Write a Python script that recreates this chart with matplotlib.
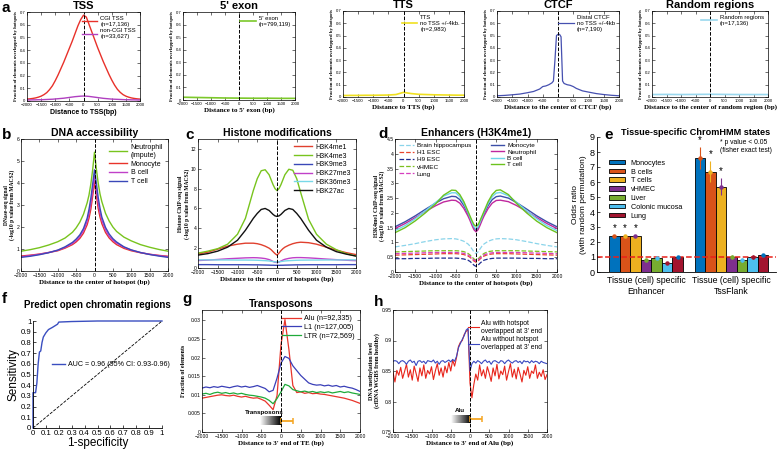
import matplotlib

matplotlib.use("Agg")
import matplotlib.pyplot as plt
import numpy as np

plt.rcParams["font.family"] = ["Liberation Sans", "DejaVu Sans"]
SERIF = "Liberation Serif"

W, H = 778, 453

# ---------------- panel a data ----------------
X100 = np.arange(-2000, 2001, 100)
X500 = np.arange(-2000, 2001, 500)
X250 = np.arange(-2000, 2001, 250)

tss_cgi = [0.015, 0.017, 0.02, 0.024, 0.03, 0.038, 0.05, 0.066, 0.09, 0.12, 0.16,
           0.205, 0.255, 0.305, 0.36, 0.415, 0.47, 0.53, 0.59, 0.64, 0.675,
           0.66, 0.6, 0.54, 0.48, 0.42, 0.365, 0.31, 0.26, 0.21, 0.165,
           0.125, 0.092, 0.068, 0.05, 0.038, 0.03, 0.024, 0.02, 0.017, 0.015]
tss_noncgi = [0.008, 0.008, 0.009, 0.009, 0.01, 0.01, 0.011, 0.012, 0.013, 0.014, 0.016,
              0.018, 0.02, 0.022, 0.025, 0.028, 0.031, 0.034, 0.036, 0.038, 0.039,
              0.038, 0.036, 0.033, 0.03, 0.027, 0.024, 0.021, 0.019, 0.017, 0.015,
              0.014, 0.013, 0.012, 0.011, 0.01, 0.01, 0.009, 0.009, 0.008, 0.008]
exon5 = [0.022, 0.02, 0.018, 0.016, 0.015, 0.014, 0.014, 0.013, 0.013]
tts = [0.012, 0.013, 0.013, 0.014, 0.014, 0.015, 0.016, 0.02, 0.038,
       0.028, 0.022, 0.02, 0.018, 0.017, 0.016, 0.015, 0.015]
ctcf_x = [-2000, -1750, -1500, -1250, -1000, -800, -600, -500, -400, -300, -200, -150,
          -100, -50, 0, 50, 100, 150, 200, 300, 400, 500, 600, 800, 1000, 1250, 1500,
          1750, 2000]
ctcf = [0.01, 0.013, 0.018, 0.024, 0.035, 0.045, 0.065, 0.085, 0.09, 0.1, 0.115, 0.13,
        0.3, 0.5, 0.51, 0.51, 0.49, 0.13, 0.11, 0.1, 0.095, 0.085, 0.07, 0.05, 0.04,
        0.028, 0.02, 0.014, 0.01]
random_reg = [0.02, 0.021, 0.02, 0.021, 0.022, 0.021, 0.02, 0.02, 0.02]

# ---------------- row 2 data ----------------
XB = [-2000, -1750, -1500, -1250, -1000, -800, -600, -500, -400, -300, -200, -150,
      -100, -50, 0, 50, 100, 150, 200, 300, 400, 500, 600, 800, 1000, 1250, 1500,
      1750, 2000]

dnase = {
    "Neutrophil\n(impute)": [0.9, 0.97, 1.06, 1.18, 1.33, 1.5, 1.76, 1.96, 2.22, 2.58, 3.1,
                             3.45, 3.95, 4.6, 5.4, 4.65, 4.0, 3.5, 3.15, 2.62, 2.27, 2.0,
                             1.8, 1.54, 1.37, 1.2, 1.08, 0.98, 0.9],
    "Monocyte": [0.68, 0.72, 0.77, 0.84, 0.92, 1.04, 1.2, 1.32, 1.48, 1.72, 2.1, 2.4, 2.8,
                 3.4, 4.05, 3.45, 2.85, 2.45, 2.15, 1.75, 1.5, 1.33, 1.2, 1.03, 0.92, 0.83,
                 0.76, 0.71, 0.67],
    "B cell": [0.65, 0.7, 0.76, 0.84, 0.94, 1.07, 1.25, 1.38, 1.56, 1.83, 2.25, 2.6, 3.05,
               3.65, 4.3, 3.7, 3.1, 2.65, 2.3, 1.87, 1.58, 1.4, 1.27, 1.08, 0.95, 0.84,
               0.76, 0.7, 0.65],
    "T cell": [0.62, 0.67, 0.74, 0.83, 0.95, 1.1, 1.3, 1.45, 1.64, 1.93, 2.4, 2.8, 3.3,
               3.95, 4.6, 4.0, 3.35, 2.85, 2.45, 1.98, 1.68, 1.47, 1.32, 1.1, 0.96, 0.84,
               0.75, 0.68, 0.62],
}
dnase_colors = ["#78c41e", "#e8332a", "#c040c8", "#3a48b8"]

histone = {
    "H3K4me1": [1.4, 1.6, 1.9, 2.2, 2.4, 2.5, 2.5, 2.45, 2.35, 2.2, 2.0, 1.85, 1.65, 1.45,
                1.3, 1.5, 1.75, 1.95, 2.1, 2.3, 2.45, 2.55, 2.6, 2.55, 2.4, 2.1, 1.8, 1.55,
                1.35],
    "H3K4me3": [1.5, 1.7, 1.95, 2.4, 3.4, 5.0, 7.8, 9.0, 9.8, 9.9, 9.4, 8.9, 8.4, 8.0, 7.8,
                8.0, 8.4, 8.9, 9.4, 9.95, 9.85, 9.0, 7.6, 4.9, 3.4, 2.4, 1.85, 1.45, 1.2],
    "H3K9me3": [0.34, 0.34, 0.33, 0.33, 0.33, 0.33, 0.32, 0.32, 0.31, 0.3, 0.29, 0.28,
                0.28, 0.27, 0.27, 0.27, 0.28, 0.28, 0.29, 0.3, 0.31, 0.32, 0.32, 0.33,
                0.33, 0.33, 0.33, 0.34, 0.34],
    "H3K27me3": [0.75, 0.8, 0.86, 0.93, 0.98, 1.02, 1.04, 1.03, 1.0, 0.95, 0.85, 0.76,
                 0.66, 0.58, 0.55, 0.6, 0.7, 0.8, 0.88, 0.97, 1.03, 1.05, 1.05, 1.02,
                 0.97, 0.9, 0.84, 0.78, 0.74],
    "H3K36me3": [0.82, 0.82, 0.81, 0.81, 0.8, 0.8, 0.79, 0.78, 0.76, 0.74, 0.71, 0.68,
                 0.65, 0.62, 0.6, 0.62, 0.65, 0.68, 0.71, 0.74, 0.76, 0.78, 0.79, 0.8,
                 0.8, 0.81, 0.81, 0.82, 0.82],
    "H3K27ac": [1.3, 1.45, 1.7, 2.1, 2.8, 3.8, 5.0, 5.5, 5.9, 6.0, 5.8, 5.6, 5.4, 5.25,
                5.2, 5.25, 5.4, 5.6, 5.8, 6.0, 5.9, 5.5, 5.0, 3.8, 2.8, 2.1, 1.65, 1.4,
                1.2],
}
histone_colors = ["#e0402e", "#78c41e", "#3a48b8", "#c040c8", "#78d8e8", "#111111"]

enh_dashed = {
    "Brain hippocampus": [0.85, 0.9, 0.96, 1.03, 1.09, 1.12, 1.13, 1.12, 1.09, 1.04,
                          0.95, 0.88, 0.78, 0.68, 0.62, 0.68, 0.78, 0.88, 0.95, 1.04,
                          1.09, 1.12, 1.13, 1.12, 1.09, 1.03, 0.96, 0.9, 0.85],
    "H1 ESC": [0.57, 0.58, 0.59, 0.6, 0.61, 0.62, 0.62, 0.62, 0.61, 0.59, 0.54, 0.5,
               0.44, 0.37, 0.33, 0.37, 0.44, 0.5, 0.54, 0.59, 0.61, 0.62, 0.62, 0.62,
               0.61, 0.6, 0.59, 0.58, 0.57],
    "H9 ESC": [0.45, 0.45, 0.46, 0.46, 0.47, 0.47, 0.47, 0.47, 0.46, 0.44, 0.4, 0.36,
               0.3, 0.23, 0.19, 0.23, 0.3, 0.36, 0.4, 0.44, 0.46, 0.47, 0.47, 0.47, 0.47,
               0.46, 0.46, 0.45, 0.45],
    "vHMEC": [0.68, 0.69, 0.7, 0.71, 0.72, 0.72, 0.72, 0.72, 0.71, 0.69, 0.63, 0.58,
              0.51, 0.44, 0.4, 0.44, 0.51, 0.58, 0.63, 0.69, 0.71, 0.72, 0.72, 0.72,
              0.72, 0.71, 0.7, 0.69, 0.68],
    "Lung": [0.62, 0.63, 0.64, 0.65, 0.66, 0.66, 0.66, 0.66, 0.65, 0.63, 0.58, 0.53,
             0.47, 0.4, 0.37, 0.4, 0.47, 0.53, 0.58, 0.63, 0.65, 0.66, 0.66, 0.66, 0.66,
             0.65, 0.64, 0.63, 0.62],
}
enh_dashed_colors = ["#8ad4ea", "#e8452c", "#1f2b8f", "#7cbf1e", "#d63fbf"]
enh_solid = {
    "Monocyte": [1.53, 1.7, 1.9, 2.12, 2.33, 2.48, 2.56, 2.55, 2.45, 2.25, 1.98, 1.82,
                 1.65, 1.5, 1.42, 1.5, 1.65, 1.82, 1.98, 2.25, 2.45, 2.55, 2.57, 2.5,
                 2.35, 2.13, 1.9, 1.7, 1.53],
    "Neutrophil": [1.47, 1.64, 1.84, 2.05, 2.24, 2.37, 2.43, 2.42, 2.33, 2.15, 1.9, 1.75,
                   1.58, 1.43, 1.36, 1.43, 1.58, 1.75, 1.9, 2.15, 2.33, 2.42, 2.43, 2.38,
                   2.25, 2.05, 1.84, 1.64, 1.47],
    "B cell": [1.4, 1.57, 1.8, 2.07, 2.35, 2.57, 2.68, 2.68, 2.55, 2.32, 2.02, 1.85,
               1.68, 1.53, 1.45, 1.53, 1.68, 1.85, 2.02, 2.32, 2.55, 2.67, 2.69, 2.58,
               2.36, 2.07, 1.8, 1.57, 1.4],
    "T cell": [1.33, 1.5, 1.73, 2.0, 2.3, 2.6, 2.77, 2.76, 2.62, 2.38, 2.06, 1.9, 1.74,
               1.6, 1.55, 1.6, 1.74, 1.9, 2.06, 2.38, 2.62, 2.76, 2.78, 2.62, 2.32, 2.0,
               1.72, 1.5, 1.33],
}
enh_solid_colors = ["#3c4fa8", "#c0289e", "#6fd6ea", "#6cc21e"]

# ---------------- panel e data ----------------
groups = ["Tissue (cell) specific\nEnhancer", "Tissue (cell) specific\nTssFlank"]
tissues = ["Monocytes", "B cells", "T cells", "vHMEC", "Liver", "Colonic mucosa", "Lung"]
odds_enh = [2.4, 2.42, 2.4, 0.8, 0.92, 0.6, 1.0]
odds_tss = [7.6, 6.7, 5.7, 1.0, 0.82, 1.02, 1.12]
err_enh = [0.08, 0.08, 0.08, 0.08, 0.06, 0.05, 0.05]
err_tss = [0.72, 0.7, 0.55, 0.15, 0.12, 0.12, 0.1]
tissue_colors = ["#0072bd", "#d95319", "#edb120", "#7e2f8e", "#77ac30", "#4dbeee", "#a2142f"]

# ---------------- panel f data ----------------
roc_fpr = [0, 0, 0.02, 0.03, 0.04, 0.05, 0.06, 0.07, 0.08, 0.1, 0.12, 0.15, 0.17, 0.19,
           0.2, 0.3, 0.5, 1.0]
roc_tpr = [0, 0.33, 0.33, 0.42, 0.6, 0.71, 0.72, 0.8, 0.85, 0.89, 0.92, 0.94, 0.955,
           0.97, 0.99, 0.995, 1.0, 1.0]

# ---------------- panel g data ----------------
te_alu = [0.0091, 0.0093, 0.0095, 0.0097, 0.0099, 0.01, 0.0098, 0.0097, 0.0099, 0.0096,
          0.0094, 0.0096, 0.0093, 0.0091, 0.0092, 0.0088, 0.0083, 0.0072, 0.006, 0.0098,
          0.0235, 0.0302, 0.0222, 0.0125, 0.0106, 0.0108, 0.0104, 0.0106, 0.0103, 0.0104,
          0.0102, 0.0101, 0.0099, 0.0097, 0.0095, 0.0093, 0.0091, 0.0088, 0.0085, 0.0081,
          0.0077]
te_l1 = [0.0118, 0.0121, 0.0119, 0.0122, 0.012, 0.0123, 0.0121, 0.0119, 0.0122, 0.0124,
         0.0121, 0.0123, 0.012, 0.0122, 0.0125, 0.0121, 0.0117, 0.0108, 0.0112, 0.0145,
         0.0185, 0.0203, 0.0198, 0.0178, 0.0165, 0.0152, 0.0142, 0.0132, 0.0128, 0.0126,
         0.0127, 0.0124, 0.0126, 0.0123, 0.0125, 0.0121, 0.0123, 0.012, 0.0118, 0.0114,
         0.0109]
te_ltr = [0.0102, 0.0104, 0.0101, 0.0105, 0.0107, 0.0104, 0.0106, 0.0103, 0.0105, 0.0102,
          0.0104, 0.0101, 0.0099, 0.0098, 0.0096, 0.0094, 0.0091, 0.0085, 0.0076, 0.009,
          0.0108, 0.0128, 0.0124, 0.0114, 0.0111, 0.0108, 0.011, 0.0107, 0.0109, 0.0106,
          0.0108, 0.0106, 0.0108, 0.0105, 0.0107, 0.0109, 0.0106, 0.0108, 0.0105, 0.0103,
          0.0101]

# ---------------- panel h data ----------------
X50 = np.arange(-2000, 2001, 50)
alu_with = [0.848, 0.832, 0.851, 0.843, 0.856, 0.838, 0.849, 0.861, 0.84, 0.852, 0.835,
            0.858, 0.846, 0.833, 0.855, 0.842, 0.86, 0.838, 0.851, 0.845, 0.857, 0.836,
            0.85, 0.862, 0.843, 0.855, 0.84, 0.858, 0.847, 0.864, 0.85, 0.868, 0.858,
            0.872, 0.89, 0.897, 0.9, 0.91, 0.915, 0.918, 0.83, 0.806, 0.828,
            0.845, 0.835, 0.86, 0.842, 0.852, 0.838, 0.857, 0.846, 0.833, 0.855, 0.842,
            0.861, 0.837, 0.85, 0.844, 0.858, 0.835, 0.849, 0.862, 0.84, 0.853, 0.837,
            0.856, 0.845, 0.832, 0.851, 0.843, 0.857, 0.838, 0.85, 0.846, 0.86, 0.838,
            0.848, 0.841, 0.852, 0.836, 0.844]
alu_without = [0.866, 0.867, 0.866, 0.862, 0.866, 0.867, 0.865, 0.861, 0.866, 0.868,
               0.864, 0.866, 0.859, 0.866, 0.867, 0.864, 0.866, 0.862, 0.867, 0.866,
               0.865, 0.868, 0.863, 0.866, 0.861, 0.866, 0.867, 0.864, 0.866, 0.868,
               0.865, 0.869, 0.866, 0.874, 0.888, 0.895, 0.902, 0.908, 0.917, 0.92,
               0.85, 0.862, 0.866, 0.863, 0.867, 0.865, 0.862, 0.866, 0.868, 0.864,
               0.866, 0.861, 0.866, 0.867, 0.865, 0.863, 0.867, 0.866, 0.862, 0.866,
               0.868, 0.865, 0.863, 0.866, 0.867, 0.864, 0.866, 0.862, 0.867, 0.865,
               0.866, 0.863, 0.867, 0.864, 0.866, 0.865, 0.862, 0.866, 0.864, 0.863,
               0.862]

fig = plt.figure(figsize=(W / 100, H / 100), dpi=100)


def axbox(l, t, r, b):
    return fig.add_axes([l / W, 1 - b / H, (r - l) / W, (b - t) / H])


def fmt(v, _):
    return f"{v:g}"


def style_profile(ax, title, xlabel, ylabel, labelsize=3.6, ylsize=3.4, xlsize=5,
                  xfamily=SERIF, tsize=8):
    ax.set_xlim(-2000, 2000)
    ax.set_xticks(range(-2000, 2001, 500))
    ax.tick_params(direction="in", top=True, right=True, labelsize=labelsize,
                   length=2, width=0.4, pad=1)
    ax.tick_params(axis="x", pad=1.6)
    ax.yaxis.set_major_formatter(plt.FuncFormatter(fmt))
    for s in ax.spines.values():
        s.set_linewidth(0.5)
    ax.axvline(0, color="k", ls="--", lw=0.7, zorder=5)
    ax.set_title(title, fontsize=tsize, fontweight="bold", pad=2)
    ax.set_xlabel(xlabel, fontsize=xlsize, fontweight="bold", family=xfamily, labelpad=1)
    ax.set_ylabel(ylabel, fontsize=ylsize, fontweight="bold", family=SERIF, labelpad=1)


def leg(ax, fs, **kw):
    ax.legend(frameon=False, fontsize=fs, handlelength=2.6, labelspacing=0.25,
              borderaxespad=0.3, handletextpad=0.5, **kw)


FRAC = "Fraction of elements overlapped by hotspots"

# ---- a ----
ax = axbox(27, 12, 140, 101)
ax.plot(X100, tss_cgi, color="#e8312a", lw=1, label="CGI TSS\n(n=17,136)")
ax.plot(X100, tss_noncgi, color="#b040c0", lw=1, label="non-CGI TSS\n(n=33,627)")
ax.set_ylim(0, 0.7)
style_profile(ax, "TSS", "Distance to TSS(bp)", FRAC, labelsize=3.1, xfamily="Liberation Sans")
leg(ax, 4.3, loc="upper right")

ax = axbox(183, 12, 295, 100)
ax.plot(X500, exon5, color="#7cc82a", lw=1.2, label="5' exon\n(n=799,119)")
ax.set_ylim(0, 0.7)
style_profile(ax, "5' exon", "Distance to 5' exon (bp)", FRAC, labelsize=3.1)
leg(ax, 4.3, loc="upper right")

ax = axbox(343, 11, 464, 97)
ax.plot(X250, tts, color="#f0e020", lw=1.2, label="TTS\nno TSS +/-4kb.\n(n=2,983)")
ax.set_ylim(0, 0.7)
style_profile(ax, "TTS", "Distance to TTS (bp)", FRAC, labelsize=3.1)
leg(ax, 4.3, loc="upper right")

ax = axbox(497, 11, 619, 97)
ax.plot(ctcf_x, ctcf, color="#4650b0", lw=0.9, label="Distal CTCF\nno TSS +/-4kb\n(n=7,190)")
ax.set_ylim(0, 0.7)
style_profile(ax, "CTCF", "Distance to the center of CTCF (bp)", FRAC, labelsize=3.1)
leg(ax, 4.3, loc="upper right")

ax = axbox(652, 11, 768, 97)
ax.plot(X500, random_reg, color="#9ad8ee", lw=1.2, label="Random regions\n(n=17,136)")
ax.set_ylim(0, 0.7)
style_profile(ax, "Random regions", "Distance to the center of random region (bp)", FRAC,
              labelsize=3.1)
leg(ax, 4.3, loc="upper right")

# ---- b ----
ax = axbox(21, 139, 168, 271)
for (name, vals), c in zip(dnase.items(), dnase_colors):
    ax.plot(XB, vals, color=c, lw=1, label=name)
ax.set_ylim(0, 6)
style_profile(ax, "DNA accessibility", "Distance to the center of hotspot (bp)",
              "DNase-seq signal\n(-log10 p value from MACS2)", ylsize=4, tsize=7.5)
leg(ax, 5, loc="upper right")

# ---- c ----
ax = axbox(198, 139, 356, 268)
for (name, vals), c in zip(histone.items(), histone_colors):
    ax.plot(XB, vals, color=c, lw=1, label=name)
ax.set_ylim(0, 13)
ax.set_yticks(range(0, 13, 2))
style_profile(ax, "Histone modifications", "Distance to the center of hotspots (bp)",
              "Histone ChIP-seq signal\n(-log10 p value from MACS2)", ylsize=4, tsize=7.5)
leg(ax, 5, loc="upper right")

# ---- d ----
ax = axbox(395, 139, 557, 272)
h1 = []
for (name, vals), c in zip(enh_dashed.items(), enh_dashed_colors):
    h1 += ax.plot(XB, vals, color=c, lw=0.9, ls="--", label=name)
h2 = []
for (name, vals), c in zip(enh_solid.items(), enh_solid_colors):
    h2 += ax.plot(XB, vals, color=c, lw=1, label=name)
ax.set_ylim(0, 4.5)
ax.set_yticks(np.arange(0, 4.51, 0.5))
style_profile(ax, "Enhancers (H3K4me1)", "Distance to the center of hotspots (bp)",
              "H3K4me1 ChIP-seq signal\n(-log10 p value from MACS2)", ylsize=4, tsize=7.5)
l1 = ax.legend(handles=h1, frameon=False, fontsize=4.6, handlelength=2.3, labelspacing=0.25,
               handletextpad=0.5, loc="upper left", borderaxespad=0.2)
ax.add_artist(l1)
ax.legend(handles=h2, frameon=False, fontsize=4.6, handlelength=2.0, labelspacing=0.12,
          handletextpad=0.5, loc="upper left", bbox_to_anchor=(0.57, 1.0), borderaxespad=0.2)

# ---- e ----
ax = axbox(597, 137, 776, 272)
bw = 0.123
gx = np.array([1, 2])
err_colors = tissue_colors[1:] + tissue_colors[:1]
for i, t in enumerate(tissues):
    xs = gx + (i - 3) * bw
    ys = [odds_enh[i], odds_tss[i]]
    es = [err_enh[i], err_tss[i]]
    ax.bar(xs, ys, width=bw, color=tissue_colors[i], edgecolor="k", lw=0.6, label=t)
    ax.errorbar(xs, ys, yerr=es, fmt="o", ms=2.2, color=err_colors[i], elinewidth=0.8,
                capsize=0)
for i in range(3):
    for g, ys, es in [(0, odds_enh, err_enh), (1, odds_tss, err_tss)]:
        ax.text(gx[g] + (i - 3) * bw, ys[i] + es[i] + 0.12, "*", ha="center",
                va="bottom", fontsize=7)
ax.axhline(1, color="#e8201a", ls="--", lw=1.1)
ax.set_xlim(0.427, 2.52)
ax.set_ylim(0, 9)
ax.set_yticks(range(0, 10))
ax.set_xticks(gx)
ax.set_xticklabels(groups, fontsize=6.3)
ax.tick_params(axis="y", labelsize=6.5, direction="in", length=2, width=0.5, pad=1.5)
ax.tick_params(axis="x", length=0, pad=3)
for s in ["top", "right"]:
    ax.spines[s].set_visible(False)
for s in ["left", "bottom"]:
    ax.spines[s].set_linewidth(0.6)
ax.set_ylabel("Odds ratio\n(with random permutation)", fontsize=6, labelpad=2)
ax.set_title("Tissue-specific ChromHMM states", fontsize=6.6, fontweight="bold", pad=1.5,
             x=0.55)
ax.text(1.86, 7.9, "* p value < 0.05\n(fisher exact test)", fontsize=4.9, ha="left",
        va="bottom")
ax.legend(frameon=False, fontsize=5.2, loc="upper left", bbox_to_anchor=(0.03, 0.88),
          handlelength=2.2, handleheight=0.6, labelspacing=0.25, handletextpad=0.8)

# ---- f ----
ax = axbox(33, 321, 162, 428)
ax.plot(roc_fpr, roc_tpr, color="#3a4ec0", lw=1, label="AUC = 0.96 (95% CI: 0.93-0.96)",
        clip_on=False)
ax.plot([0, 1], [0, 1], color="k", ls="--", lw=0.6)
ax.set_xlim(0, 1)
ax.set_ylim(0, 1)
ax.set_xticks(np.arange(0, 1.01, 0.1))
ax.set_yticks(np.arange(0, 1.01, 0.1))
ax.xaxis.set_major_formatter(plt.FuncFormatter(fmt))
ax.yaxis.set_major_formatter(plt.FuncFormatter(fmt))
ax.tick_params(labelsize=5.6, direction="in", length=2, width=0.5, pad=1.2)
for s in ["top", "right"]:
    ax.spines[s].set_visible(False)
for s in ["left", "bottom"]:
    ax.spines[s].set_linewidth(0.6)
ax.set_xlabel("1-specificity", fontsize=8.5, labelpad=0)
ax.set_ylabel("Sensitivity", fontsize=8.5, labelpad=1)
ax.set_title("Predict open chromatin regions", fontsize=7, fontweight="bold", pad=9)
ax.legend(frameon=False, fontsize=5.1, loc="center left", bbox_to_anchor=(0.1, 0.59),
          handlelength=1.8, handletextpad=0.4)

# ---- g ----
ax = axbox(202, 310, 360, 432)
ax.plot(X100, te_alu, color="#e8352b", lw=0.9, label="Alu (n=92,335)")
ax.plot(X100, te_l1, color="#3a3fb8", lw=0.9, label="L1 (n=127,005)")
ax.plot(X100, te_ltr, color="#1faa3a", lw=0.9, label="LTR (n=72,569)")
ax.set_ylim(0, 0.0328)
ax.set_yticks(np.arange(0, 0.0301, 0.005))
grad = np.linspace(0, 1, 64).reshape(1, -1)
ax.imshow(grad, cmap="gray_r", extent=[-520, 0, 0.0018, 0.0042], aspect="auto", zorder=3)
ax.errorbar(150, 0.003, xerr=150, color="#f5a623", lw=1.3, capsize=2.5, capthick=1.1,
            zorder=4)
ax.text(-420, 0.0046, "Transposons", fontsize=4.5, fontweight="bold", ha="center",
        va="bottom")
style_profile(ax, "Transposons", "Distance to 3' end of TE (bp)", "Fraction of elements",
              ylsize=4.3, tsize=7.5)
leg(ax, 5.2, loc="upper right")

# ---- h ----
ax = axbox(393, 310, 547, 432)
ax.plot(X50, alu_with, color="#e8251c", lw=0.8,
        label="Alu with hotspot\noverlapped at 3' end")
ax.plot(X50, alu_without, color="#3a48c0", lw=0.8,
        label="Alu without hotspot\noverlapped at 3' end")
ax.set_ylim(0.75, 0.95)
ax.set_yticks(np.arange(0.75, 0.951, 0.05))
ax.imshow(grad, cmap="gray_r", extent=[-500, 0, 0.764, 0.777], aspect="auto", zorder=3)
ax.errorbar(150, 0.7705, xerr=150, color="#f5a623", lw=1.3, capsize=2.5, capthick=1.1,
            zorder=4)
ax.text(-260, 0.781, "Alu", fontsize=4.5, fontweight="bold", ha="center", va="bottom")
style_profile(ax, "", "Distance to 3' end of Alu (bp)",
              "DNA methylation level\n(cfDNA WGBS from healthy)", ylsize=4.3)
ax.legend(frameon=False, fontsize=4.9, loc="upper right", bbox_to_anchor=(1.01, 0.97),
          handlelength=1.6, labelspacing=0.2, handletextpad=0.4)

# panel letters
for lab, x, y in [("a", 2, 1), ("b", 2, 128), ("c", 185, 128), ("d", 378, 127),
                  ("e", 604, 128), ("f", 2, 292), ("g", 182, 292), ("h", 374, 295)]:
    fig.text(x / W, 1 - y / H, lab, fontsize=11, fontweight="bold", va="top")

plt.savefig("out.png", dpi=100)
plt.close()
